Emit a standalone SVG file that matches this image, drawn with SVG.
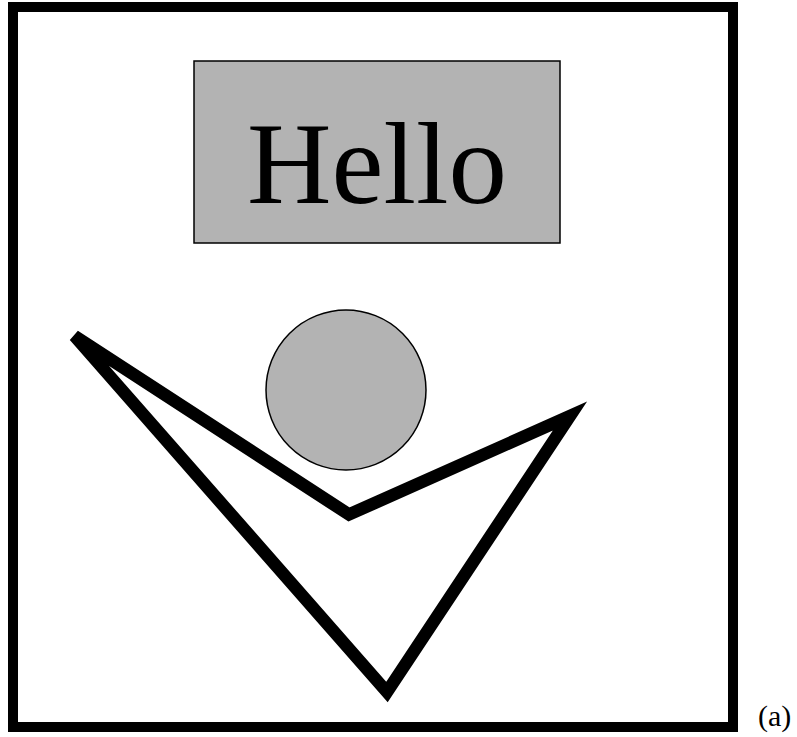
<svg xmlns="http://www.w3.org/2000/svg" width="797" height="737" viewBox="0 0 797 737">
<style>
.gray{fill:#b3b3b3;stroke:#000;stroke-width:1.5}
.t{font-family:"Liberation Serif","Times New Roman",serif;fill:#000}
</style>
<rect width="797" height="737" fill="#fff"/>
<g id="frame"><rect x="13" y="7" width="720" height="720" fill="none" stroke="#000" stroke-width="10"/></g>
<g id="hello"><rect class="gray" x="194" y="61" width="366" height="182"/>
<text class="t" x="377" y="203" font-size="117" text-anchor="middle">Hello</text></g>
<g id="circle"><circle class="gray" cx="346" cy="390" r="80"/></g>
<g id="shape"><polygon points="74.5,336 349,514.5 570,416 387,692" fill="none" stroke="#000" stroke-width="12.5" stroke-linejoin="miter" stroke-miterlimit="4"/></g>
<g id="label"><text class="t" x="758" y="726" font-size="30">(a)</text></g>
</svg>
